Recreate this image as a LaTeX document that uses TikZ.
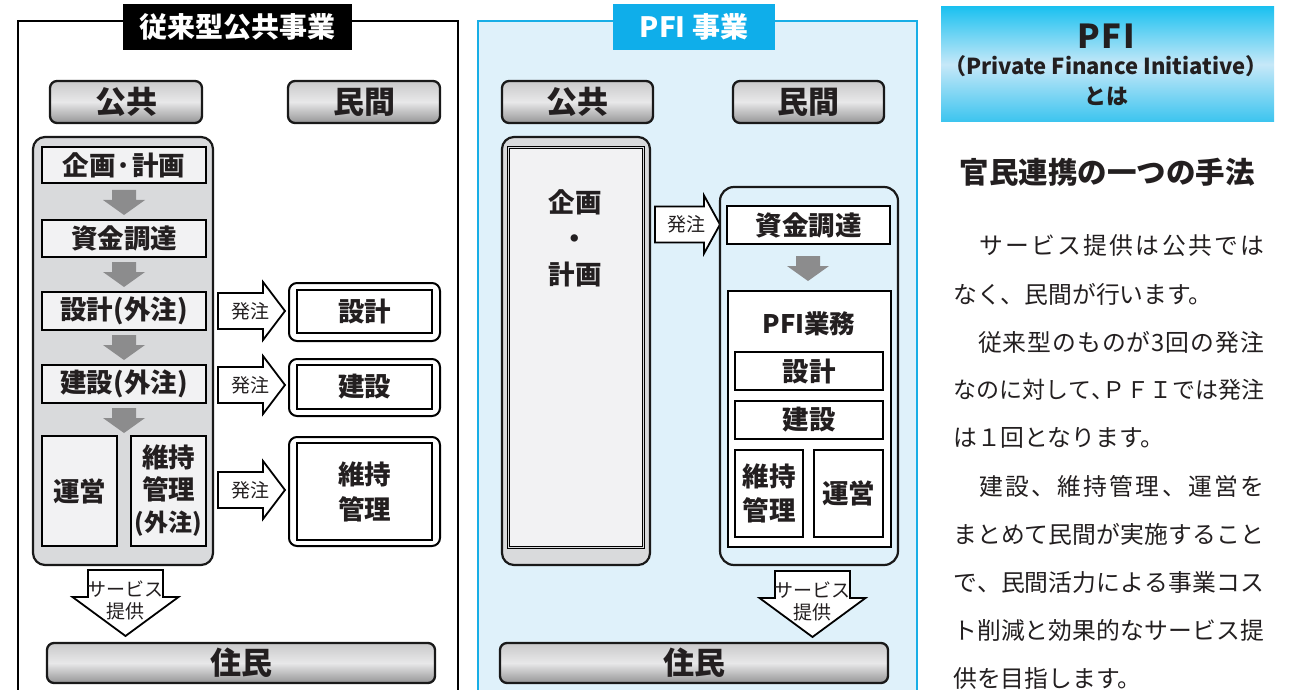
\documentclass[tikz,border=0pt]{standalone}
\usepackage{fontspec}
\setmainfont{Noto Sans CJK JP}
\definecolor{boxfill}{HTML}{F2F2F3}
\definecolor{contfill}{HTML}{D9DADC}
\definecolor{panelblue}{HTML}{DFF1FA}
\definecolor{cyanline}{HTML}{18AEE6}
\definecolor{titlecyan}{HTML}{0FAEEA}
\definecolor{arrowgrey}{HTML}{8C8C8D}
\definecolor{hdrtop}{HTML}{C9C9CA}
\definecolor{hdrmid}{HTML}{E8E8E9}
\definecolor{hdrbot}{HTML}{959596}
\definecolor{gtop}{HTML}{1CC1F0}
\definecolor{gmid}{HTML}{C6E8F8}
\definecolor{gbot}{HTML}{3BC4EF}
\definecolor{txt}{HTML}{231F20}
\newcommand\fs[2]{\fontsize{#1}{#2}\selectfont}
\makeatletter
\def\jsp@first#1{#1\jsp@rest}
\def\jsp@rest#1{\ifx\relax#1\else\hfil#1\expandafter\jsp@rest\fi}
\newcommand\jjust[1]{\makebox[311pt][s]{\jsp@first#1\relax}}
\makeatother
\newcommand\hc{\makebox[11.5pt][l]{、}}
\newcommand\hatchu[5]{%
  \draw[blockarrow] (#2,{#5-18}) -- (#3,{#5-18}) -- (#3,{#5-29}) -- (#4,#5) -- (#3,{#5+29}) -- (#3,{#5+18}) -- (#2,{#5+18}) -- cycle;
  \node[smalltxt] (#1) at ({(#2+#4)/2-1},#5) {発注};}
\newcommand\service[3]{%
  \draw[blockarrow] ({#2-37.5},#3) -- ({#2+37.5},#3) -- ({#2+37.5},{#3+27}) -- ({#2+53},{#3+27}) -- (#2,{#3+66}) -- ({#2-53},{#3+27}) -- ({#2-37.5},{#3+27}) -- cycle;
  \node[smalltxt] (#1) at (#2,{#3+30}) {サービス\\提供};}
\newcommand\gdown[2]{\fill[arrowgrey] ({#1-12},#2) -- ({#1+12},#2) -- ({#1+12},{#2+10}) -- ({#1+21},{#2+10}) -- (#1,{#2+25}) -- ({#1-21},{#2+10}) -- ({#1-12},{#2+10}) -- cycle;}
\begin{document}
\begin{tikzpicture}[x=1pt,y=-1pt,
  every node/.append style={text=txt},
  stepbox/.style={draw=black, line width=2pt, fill=boxfill, inner sep=0pt, font=\bfseries\fs{26.5}{32}, align=center},
  hdr/.style={draw=black!90, line width=2.3pt, rounded corners=7pt, top color=hdrtop, bottom color=hdrbot, middle color=hdrmid, inner sep=0pt, font=\bfseries\fs{31}{33}},
  wbox/.style={draw=black, line width=2.3pt, fill=white, inner sep=0pt, font=\bfseries\fs{26.5}{35}, align=center},
  outerr/.style={draw=black, line width=2pt, rounded corners=8pt, fill=white, inner sep=0pt},
  blockarrow/.style={draw=black, line width=1.8pt, fill=white, line join=miter},
  smalltxt/.style={font=\fs{19}{22}, align=center, inner sep=0pt},
  cont/.style={draw=black!90, line width=2.2pt, fill=contfill, inner sep=0pt},
  para/.style={font=\fs{23.8}{26}, inner sep=0pt, anchor=west}]
\useasboundingbox (0,0) rectangle (1294,690);

% ---------------- left panel ----------------
\draw[line width=2pt] (18,692) -- (18,21) -- (458,21) -- (458,692);
\node[fill=black, text=white, font=\bfseries\fs{28}{30}, minimum width=229pt, minimum height=46pt, inner sep=0pt] (t1) at (237.5,27) {従来型公共事業};
\node[hdr, minimum width=152pt, minimum height=42pt] (pub1) at (126,102) {公共};
\node[hdr, minimum width=152pt, minimum height=42pt] (pri1) at (364,102) {民間};
\node[cont, rounded corners=12pt, minimum width=180pt, minimum height=428pt] (cont1) at (123,351) {};
\node[stepbox, minimum width=164pt, minimum height=36pt] (a1) at (124,165) {企画·計画};
\node[stepbox, minimum width=164pt, minimum height=37pt] (a2) at (124,238.5) {資金調達};
\node[stepbox, minimum width=164pt, minimum height=38pt] (a3) at (124,311) {設計(外注)};
\node[stepbox, minimum width=164pt, minimum height=38pt] (a4) at (124,384) {建設(外注)};
\node[stepbox, minimum width=75pt, minimum height=110pt] (a5) at (79.5,491) {運営};
\node[stepbox, minimum width=75pt, minimum height=110pt] (a6) at (168.5,491) {維持\\管理\\{\fs{24}{32}(外注)}};
\gdown{124}{190}
\gdown{124}{262}
\gdown{124}{335}
\gdown{124}{408}
\node[outerr, minimum width=151pt, minimum height=58pt] (r1o) at (364.5,312) {};
\node[wbox, minimum width=135pt, minimum height=43pt] (r1) at (364.5,311.5) {設計};
\node[outerr, minimum width=151pt, minimum height=57pt] (r2o) at (364.5,387.5) {};
\node[wbox, minimum width=135pt, minimum height=44pt] (r2) at (364.5,387) {建設};
\node[outerr, minimum width=151pt, minimum height=109pt] (r3o) at (364.5,491.5) {};
\node[wbox, minimum width=135pt, minimum height=97pt] (r3) at (364.5,491.5) {維持\\管理};
\hatchu{h1}{218}{263}{285}{311}
\hatchu{h2}{218}{263}{285}{385}
\hatchu{h3}{218}{263}{285}{490}
\service{sv1}{125.5}{570}
\node[hdr, minimum width=388pt, minimum height=40pt] (res1) at (241,663) {住民};

% ---------------- middle panel ----------------
\fill[panelblue] (478,21) rectangle (917,692);
\draw[cyanline, line width=2.5pt] (478,692) -- (478,21) -- (917,21) -- (917,692);
\node[fill=titlecyan, text=white, font=\bfseries\fs{28}{30}, minimum width=162pt, minimum height=46pt, inner sep=0pt] (t2) at (694,27) {PFI 事業};
\node[hdr, minimum width=151pt, minimum height=42pt] (pub2) at (577.5,102) {公共};
\node[hdr, minimum width=151pt, minimum height=42pt] (pri2) at (808.5,102) {民間};
\node[cont, rounded corners=12pt, minimum width=148pt, minimum height=428pt] (cont2) at (576,351) {};
\node[draw=black, line width=1.2pt, double=contfill, double distance=1.2pt, fill=boxfill, minimum width=135pt, minimum height=400pt, inner sep=0pt] (plan) at (576,347.5) {};
\node[font=\bfseries\fs{26.5}{36}, align=center, inner sep=0pt] (plant) at (575,238) {企画\\・\\計画};
\hatchu{h4}{655}{704}{720}{224.5}
\node[draw=black!90, line width=2.2pt, rounded corners=14pt, fill=panelblue, minimum width=178pt, minimum height=378pt, inner sep=0pt] (cont3) at (809,376) {};
\node[wbox, minimum width=163pt, minimum height=38pt] (b1) at (808.5,225) {資金調達};
\gdown{808}{256}
\node[wbox, minimum width=163pt, minimum height=256pt] (pfi) at (809.5,419) {};
\node[font=\bfseries\fs{25.5}{27}, inner sep=0pt] (pfit) at (809,324) {PFI業務};
\node[wbox, minimum width=148pt, minimum height=38pt] (b2) at (809,371) {設計};
\node[wbox, minimum width=148pt, minimum height=38pt] (b3) at (809,420) {建設};
\node[wbox, minimum width=68pt, minimum height=87pt, font=\bfseries\fs{26.5}{34}] (b4) at (769,493.5) {維持\\管理};
\node[wbox, minimum width=69pt, minimum height=87pt] (b5) at (848.5,493.5) {運営};
\service{sv2}{812.5}{571}
\node[hdr, minimum width=388pt, minimum height=40pt] (res2) at (694,663) {住民};

% ---------------- right column ----------------
\node[top color=gtop, bottom color=gbot, middle color=gmid, minimum width=333pt, minimum height=115pt, inner sep=0pt] (pfihead) at (1107.5,64.5) {};
\node[font=\bfseries\fs{33}{35}, inner sep=0pt] (pfiA) at (1106,36) {P\kern1.5pt F\kern1.5pt I};
\node[font=\bfseries\fs{22}{24}, inner sep=0pt] (pfiB) at (1106,66) {（Private Finance Initiative）};
\node[font=\bfseries\fs{22}{24}, inner sep=0pt] (pfiC) at (1106,96) {とは};
\node[font=\bfseries\fs{29.5}{31}, inner sep=0pt] (sub) at (1107,172) {官民連携の一つの手法};
\node[para] (p1) at (953,246) {\jjust{　サービス提供は公共では}};
\node[para] (p2) at (953,294) {なく、民間が行います。};
\node[para] (p3) at (953,342) {\jjust{　従来型のものが3回の発注}};
\node[para] (p4) at (953,390) {\fs{23}{26}\jjust{なのに対して\hc ＰＦＩでは発注}};
\node[para] (p5) at (953,438) {は１回となります。};
\node[para] (p6) at (953,486) {\jjust{　建設、維持管理、運営を}};
\node[para] (p7) at (953,534) {\jjust{まとめて民間が実施すること}};
\node[para] (p8) at (953,582) {\jjust{で、民間活力による事業コス}};
\node[para] (p9) at (953,630) {\jjust{ト削減と効果的なサービス提}};
\node[para] (p10) at (953,678) {供を目指します。};
\end{tikzpicture}
\end{document}
